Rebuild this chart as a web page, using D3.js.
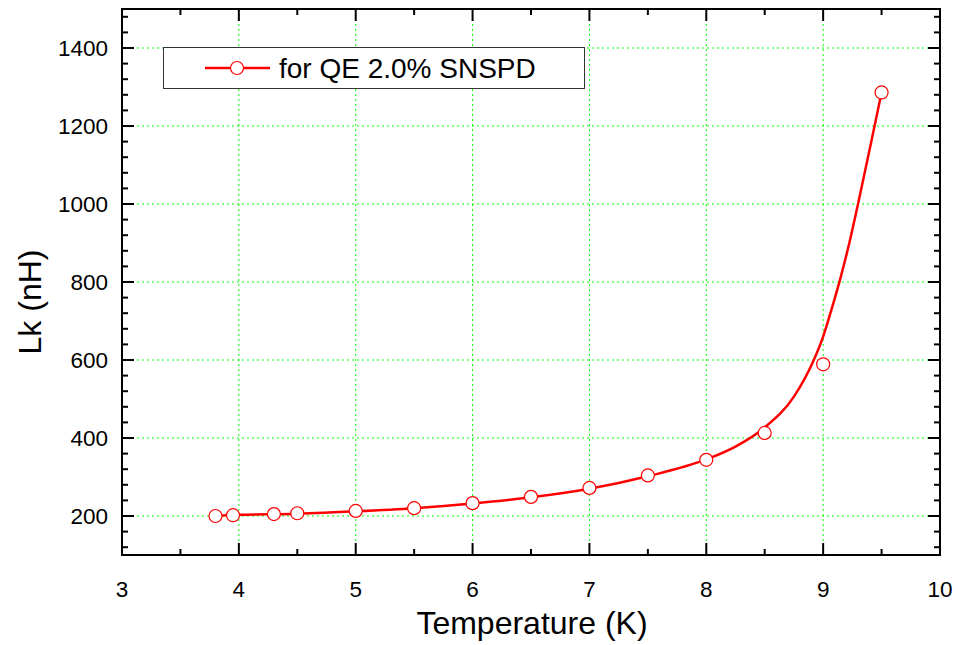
<!DOCTYPE html>
<html>
<head>
<meta charset="utf-8">
<script src="https://cdn.jsdelivr.net/npm/d3@7"></script>
<style>
  body { margin: 0; background: #fff; }
  text { font-family: "Liberation Sans", Arial, sans-serif; }
</style>
</head>
<body>
<div id="plot"></div>
<script>
// measured points
const temps = [3.8, 3.95, 4.3, 4.5, 5, 5.5, 6, 6.5, 7, 7.5, 8, 8.5, 9, 9.5];
const lk = [200, 202, 205, 207, 213, 220, 233, 249, 272, 304, 344, 413, 589, 1286];

// fitted curve
const fitT = [3.8, 4, 4.5, 5, 5.5, 6, 6.5, 7, 7.5, 8, 8.25, 8.5, 8.75, 8.92, 9.0, 9.07, 9.14, 9.22, 9.3, 9.44, 9.5];
const fitL = [201, 203, 206, 212, 220, 232, 248, 270, 302, 345, 378, 427, 506, 600, 660, 728, 801, 895, 1002, 1200, 1286];

const xTicks = [3, 4, 5, 6, 7, 8, 9, 10];
const yTicks = [200, 400, 600, 800, 1000, 1200, 1400];
const legendLabel = "for QE 2.0% SNSPD";

const width = 958;
const height = 645;
const margin = {left: 122, right: 18, top: 9, bottom: 90};

const svg = d3.select("div#plot")
  .append("svg")
  .attr("width", width)
  .attr("height", height);

const x = d3.scaleLinear().domain([3, 10]).range([margin.left, width - margin.right]);
const y = d3.scaleLinear().domain([100, 1500]).range([height - margin.bottom, margin.top]);

const x0 = x.range()[0], x1 = x.range()[1];
const y0 = y.range()[0], y1 = y.range()[1];

// grid
svg.append("g")
  .selectAll("line.vg")
  .data(xTicks.slice(1, -1))
  .enter().append("line")
  .attr("x1", d => x(d)).attr("x2", d => x(d))
  .attr("y1", y1).attr("y2", y0)
  .attr("stroke", "#00ff00")
  .attr("stroke-width", 1)
  .attr("stroke-dasharray", "2,3");

svg.append("g")
  .selectAll("line.hg")
  .data(yTicks)
  .enter().append("line")
  .attr("x1", x0).attr("x2", x1)
  .attr("y1", d => y(d)).attr("y2", d => y(d))
  .attr("stroke", "#00ff00")
  .attr("stroke-width", 1)
  .attr("stroke-dasharray", "2,3");

// axes with inward ticks
const xMinor = d3.range(3.5, 10, 1);
const yMinor = d3.range(120, 1500, 40).filter(v => v % 200 !== 0);

function drawTicks(g, vals, len, side) {
  g.selectAll(null)
    .data(vals)
    .enter().append("line")
    .attr("x1", d => side === "b" || side === "t" ? x(d) : (side === "l" ? x0 : x1))
    .attr("x2", d => side === "b" || side === "t" ? x(d) : (side === "l" ? x0 + len : x1 - len))
    .attr("y1", d => side === "l" || side === "r" ? y(d) : (side === "b" ? y0 : y1))
    .attr("y2", d => side === "l" || side === "r" ? y(d) : (side === "b" ? y0 - len : y1 + len))
    .attr("stroke", "#000")
    .attr("stroke-width", 2);
}

const ax = svg.append("g");
drawTicks(ax, xTicks, 12, "b");
drawTicks(ax, xMinor, 6, "b");
drawTicks(ax, xTicks, 12, "t");
drawTicks(ax, xMinor, 6, "t");
drawTicks(ax, yTicks, 12, "l");
drawTicks(ax, yMinor, 6, "l");
drawTicks(ax, yTicks, 12, "r");
drawTicks(ax, yMinor, 6, "r");

ax.append("rect")
  .attr("x", x0).attr("y", y1)
  .attr("width", x1 - x0).attr("height", y0 - y1)
  .attr("fill", "none")
  .attr("stroke", "#000")
  .attr("stroke-width", 2);

// tick labels
svg.append("g")
  .selectAll("text")
  .data(xTicks)
  .enter().append("text")
  .attr("x", d => x(d))
  .attr("y", 597)
  .attr("text-anchor", "middle")
  .style("font-size", "22.5px")
  .text(d => d);

svg.append("g")
  .selectAll("text")
  .data(yTicks)
  .enter().append("text")
  .attr("x", x0 - 14)
  .attr("y", d => y(d))
  .attr("dy", "0.36em")
  .attr("text-anchor", "end")
  .style("font-size", "22.5px")
  .text(d => d);

// axis titles
svg.append("text")
  .attr("x", 532)
  .attr("y", 634)
  .attr("text-anchor", "middle")
  .style("font-size", "32px")
  .text("Temperature (K)");

svg.append("text")
  .attr("transform", "translate(41, 302) rotate(-90)")
  .attr("text-anchor", "middle")
  .style("font-size", "32px")
  .text("Lk (nH)");

// fitted line
const line = d3.line()
  .x((d, i) => x(fitT[i]))
  .y(d => y(d))
  .curve(d3.curveMonotoneX);

svg.append("path")
  .datum(fitL)
  .attr("d", line)
  .attr("fill", "none")
  .attr("stroke", "#ff0000")
  .attr("stroke-width", 2.5);

// markers
svg.append("g")
  .selectAll("circle")
  .data(lk)
  .enter().append("circle")
  .attr("cx", (d, i) => x(temps[i]))
  .attr("cy", d => y(d))
  .attr("r", 6.5)
  .attr("fill", "#fff")
  .attr("stroke", "#ff0000")
  .attr("stroke-width", 1.2);

// legend
const lg = svg.append("g");
lg.append("rect")
  .attr("x", 163.5).attr("y", 47.5)
  .attr("width", 421).attr("height", 41)
  .attr("fill", "#fff")
  .attr("stroke", "#333")
  .attr("stroke-width", 1);
lg.append("line")
  .attr("x1", 205).attr("x2", 270)
  .attr("y1", 68).attr("y2", 68)
  .attr("stroke", "#ff0000")
  .attr("stroke-width", 2.5);
lg.append("circle")
  .attr("cx", 237).attr("cy", 68).attr("r", 6.5)
  .attr("fill", "#fff")
  .attr("stroke", "#ff0000")
  .attr("stroke-width", 1.2);
lg.append("text")
  .attr("x", 279).attr("y", 77.5)
  .style("font-size", "28px")
  .text(legendLabel);
</script>
</body>
</html>
